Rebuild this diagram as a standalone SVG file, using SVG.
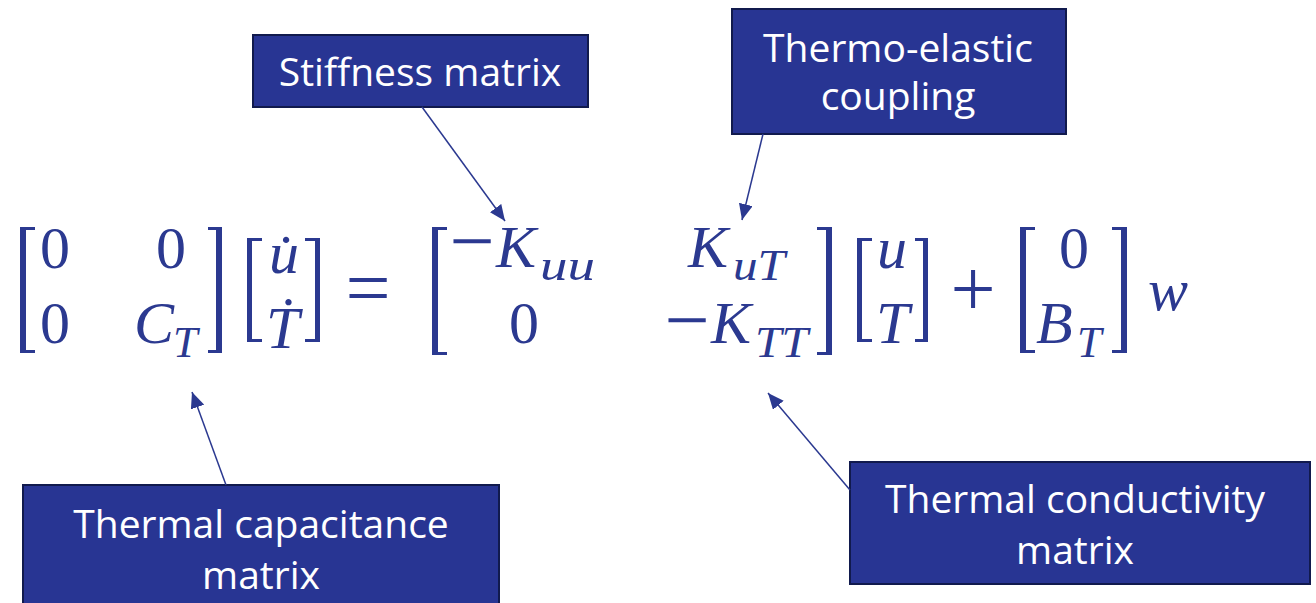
<svg xmlns="http://www.w3.org/2000/svg" width="1316" height="603" viewBox="0 0 1316 603">
  <defs>
    <marker id="arrow" markerUnits="userSpaceOnUse" markerWidth="18" markerHeight="14" refX="16" refY="7" orient="auto">
      <path d="M0,0 L16,7 L0,14 Z" fill="#2B3990"/>
    </marker>
    <style>
      .box { fill: #283593; stroke: #111a4d; stroke-width: 2; }
      .lbl { font-family: "Open Sans", "Noto Sans", sans-serif; font-size: 39px; fill: #ffffff; text-anchor: middle; }
      .eq { font-family: "Liberation Serif", "DejaVu Serif", serif; font-size: 60px; fill: #2B3990; }
      .it { font-style: italic; }
      .op { font-size: 80px; text-anchor: middle; }
      .sub { font-family: "Liberation Serif", "DejaVu Serif", serif; font-size: 44px; font-style: italic; fill: #2B3990; }
      .br { fill: #2B3990; }
      .conn line { stroke: #2B3990; stroke-width: 1.5; marker-end: url(#arrow); }
    </style>
  </defs>
  <rect width="1316" height="603" fill="#ffffff"/>

  <g id="equation">
    <path class="br" d="M20,227 H35 V230 H26 V350 H35 V353 H20 Z"/>
    <path class="br" d="M222,227 H208 V230 H216 V350 H208 V353 H222 Z"/>
    <path class="br" d="M247,238 H262 V241 H252 V339 H262 V342 H247 Z"/>
    <path class="br" d="M320,238 H305 V241 H315 V339 H305 V342 H320 Z"/>
    <path class="br" d="M432,227 H447 V230 H438 V352 H447 V355 H432 Z"/>
    <path class="br" d="M832,227 H817 V230 H826 V352 H817 V355 H832 Z"/>
    <path class="br" d="M857,238 H872 V241 H862 V339 H872 V342 H857 Z"/>
    <path class="br" d="M928,238 H915 V241 H923 V339 H915 V342 H928 Z"/>
    <path class="br" d="M1020,227 H1035 V230 H1026 V350 H1035 V353 H1020 Z"/>
    <path class="br" d="M1127,227 H1112 V230 H1121 V350 H1112 V353 H1127 Z"/>

    <text class="eq" x="40" y="268">0</text>
    <text class="eq" x="156" y="268">0</text>
    <text class="eq" x="40" y="343">0</text>
    <text class="eq it" x="134" y="343">C</text>
    <text class="sub" x="173" y="357">T</text>

    <text class="eq it" x="269" y="273">u&#x307;</text>
    <text class="eq it" x="266" y="348">T&#x307;</text>

    <text class="eq op" x="368" y="315">=</text>

    <text class="eq op" x="472" y="268">−</text>
    <text class="eq it" x="496" y="267">K</text>
    <text class="sub" x="540" y="280" textLength="55" lengthAdjust="spacingAndGlyphs">uu</text>
    <text class="eq" x="509" y="343">0</text>
    <text class="eq it" x="688" y="267">K</text>
    <text class="sub" x="733" y="280" textLength="52" lengthAdjust="spacingAndGlyphs">uT</text>
    <text class="eq op" x="687" y="347">−</text>
    <text class="eq it" x="711" y="343">K</text>
    <text class="sub" x="755" y="357" textLength="53" lengthAdjust="spacingAndGlyphs">TT</text>

    <text class="eq it" x="877" y="268">u</text>
    <text class="eq it" x="876" y="343">T</text>

    <text class="eq op" x="973" y="316">+</text>

    <text class="eq" x="1059" y="268">0</text>
    <text class="eq it" x="1036" y="343">B</text>
    <text class="sub" x="1077" y="357">T</text>
    <text class="eq it" x="1148" y="310">w</text>
  </g>

  <g id="node-stiffness">
    <rect class="box" x="253" y="35" width="335" height="72"/>
    <text class="lbl" x="420" y="86">Stiffness matrix</text>
  </g>

  <g id="node-coupling">
    <rect class="box" x="732" y="9" width="334" height="125"/>
    <text class="lbl" x="898" y="62">Thermo-elastic</text>
    <text class="lbl" x="898" y="110">coupling</text>
  </g>

  <g id="node-capacitance">
    <rect class="box" x="23" y="485" width="476" height="125"/>
    <text class="lbl" x="261" y="538">Thermal capacitance</text>
    <text class="lbl" x="261" y="589">matrix</text>
  </g>

  <g id="node-conductivity">
    <rect class="box" x="850" y="462" width="460" height="122"/>
    <text class="lbl" x="1075" y="513">Thermal conductivity</text>
    <text class="lbl" x="1075" y="564">matrix</text>
  </g>

  <g id="connectors" class="conn">
    <line x1="422" y1="107" x2="505" y2="221"/>
    <line x1="763" y1="134" x2="742" y2="220"/>
    <line x1="226" y1="485" x2="192" y2="392"/>
    <line x1="850" y1="490" x2="768" y2="393"/>
  </g>
</svg>
